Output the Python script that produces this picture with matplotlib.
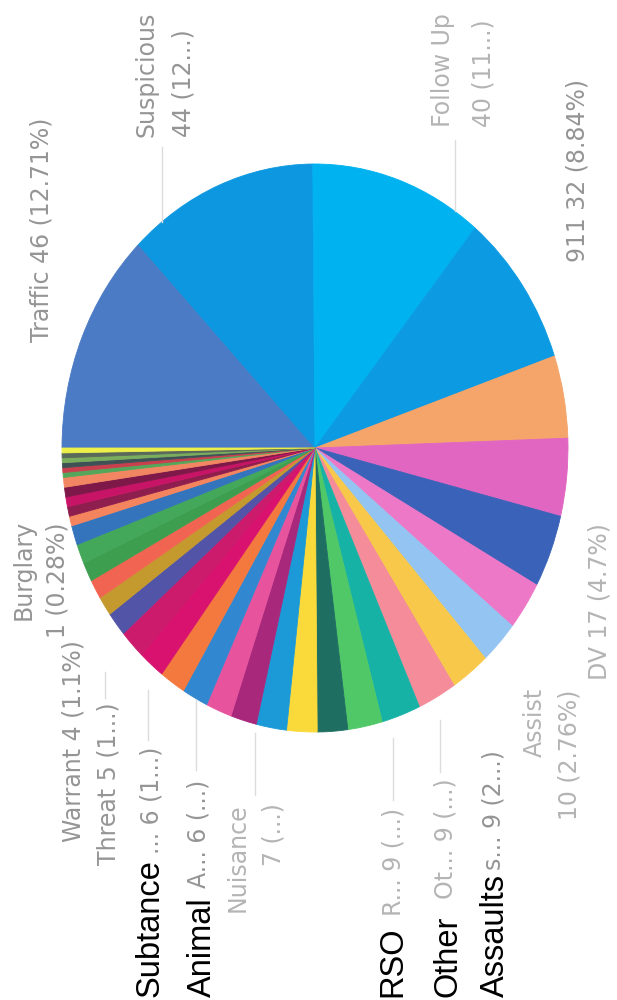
import matplotlib.pyplot as plt

W, H = 617, 1000

# slices in drawing order (clockwise from 9 o'clock), counts
categories = ['Traffic', 'Suspicious', 'Follow Up', '911', 'DV', '', '', 'Assist',
              'Assaults', 'Other', 'RSO', '', '', '', '', 'Nuisance', '', '',
              'Animal', '', 'Subtance', '', 'Threat', 'Warrant', '', '', '', '',
              '', '', '', '', '', '', '', '', '', '', 'Burglary']
values = [46, 44, 40, 32, 17, 16, 15, 10, 9, 9, 9, 9, 8, 7, 7, 7, 6, 6, 6, 6, 6, 6,
          5, 4, 4, 4, 4, 4, 2, 2, 2, 2, 2, 1, 1, 1, 1, 1, 1]
colors = ['#4B7BC4', '#0C97E0', '#00B2F0', '#0C9AE2', '#F5A46A', '#E066C2', '#3A62B8',
          '#EE78C8', '#94C4F2', '#F7C84A', '#F48C9A', '#16B2A6', '#50C868', '#1E6E62',
          '#FADA3A', '#1C9AD8', '#A8287C', '#E8539E', '#3288D0', '#F4793E', '#D8126E',
          '#CC1A6C', '#5254A8', '#C49A2E', '#F26452', '#3E9E50', '#44A85A', '#3474BC',
          '#F4845E', '#8E1E4E', '#C81466', '#7E1848', '#F28662', '#54A65A', '#C8404E',
          '#3E5256', '#7AAE5E', '#5A6A5A', '#EEF04A']

fig = plt.figure(figsize=(W / 100, H / 100), dpi=100)
fig.patch.set_facecolor('white')

# the scanned pie is stretched into an ellipse
ax = fig.add_axes([62 / W, 1 - 732 / H, 506 / W, 568 / H])
wedges, _ = ax.pie(values, colors=colors, startangle=180, counterclock=False,
                   wedgeprops=dict(linewidth=0.6))
for w, c in zip(wedges, colors):
    w.set_edgecolor(c)
ax.set_aspect('auto')
ax.set_xlim(-1, 1)
ax.set_ylim(-1, 1)
ax.axis('off')

DARK = '#959595'
LIGHT = '#b4b4b4'


def fx(x):
    return x / W


def fy(y):
    return 1 - y / H


def label(x, y, text, align, color=DARK, size=17, family='DejaVu Sans'):
    fig.text(fx(x), fy(y), text, rotation=90, rotation_mode='anchor',
             ha=align, va='center', fontsize=size, color=color, family=family)


def leader(x, y0, y1):
    fig.add_artist(plt.Line2D([fx(x), fx(x)], [fy(y0), fy(y1)],
                              color='#dcdcdc', lw=1))


# labels above the pie (start near the pie)
label(42, 342, 'Traffic 46 (12.71%)', 'left')
label(146, 137, 'Suspicious', 'left')
label(184, 137, '44 (12...)', 'left')
label(443, 127, 'Follow Up', 'left', LIGHT)
label(483, 127, '40 (11...)', 'left', LIGHT)
label(577, 262, '911 32 (8.84%)', 'left')
label(600, 680, 'DV 17 (4.7%)', 'left', LIGHT)

# labels below the pie (end near the pie)
label(535, 688, 'Assist', 'right', LIGHT)
label(569, 690, '10 (2.76%)', 'right', LIGHT)
label(494, 750, 's... 9 (2...)', 'right')
label(446, 778, 'Ot... 9 (...)', 'right', LIGHT)
label(393, 808, 'R... 9 (...)', 'right', LIGHT)
label(238, 803, 'Nuisance', 'right', LIGHT)
label(273, 803, '7 (...)', 'right', LIGHT)
label(198, 780, 'A... 6 (...)', 'right')
label(152, 747, '... 6 (1...)', 'right')
label(109, 702, 'Threat 5 (1...)', 'right')
label(74, 640, 'Warrant 4 (1.1%)', 'right')
label(24, 520, 'Burglary', 'right')
label(57, 523, '1 (0.28%)', 'right')

leader(162, 222, 147)
leader(455, 211, 140)
leader(440, 720, 772)
leader(393, 738, 800)
leader(255, 733, 795)
leader(196, 700, 770)
leader(148, 690, 740)
leader(105, 672, 698)

# black annotations typed over the chart
for x, txt in [(150, 'Subtance'), (202, 'Animal'), (393, 'RSO'), (448, 'Other'),
               (495, 'Assaults')]:
    label(x, 997, txt, 'left', color='black', size=23.5, family='Liberation Sans')

fig.savefig('out.png', dpi=100, facecolor='white')
